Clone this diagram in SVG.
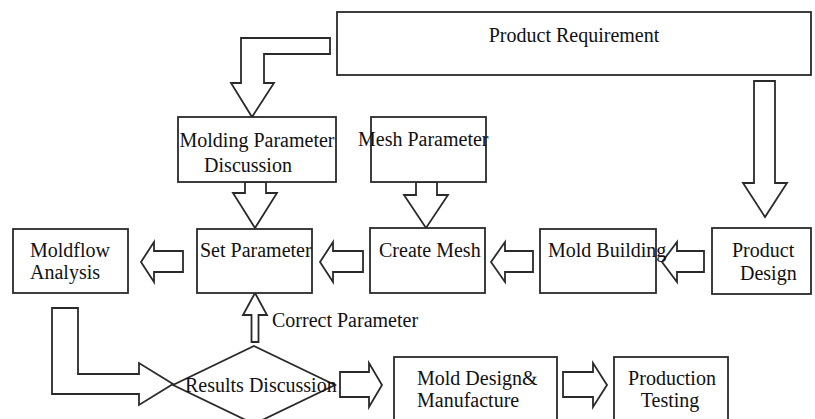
<svg xmlns="http://www.w3.org/2000/svg" width="815" height="419" viewBox="0 0 815 419">
<style>
.box{fill:#fff;stroke:#2a2a2a;stroke-width:1.8}
.arr{fill:#fff;stroke:#2a2a2a;stroke-width:1.8;stroke-linejoin:miter}
text{font-family:"Liberation Serif","Times New Roman",serif;font-size:20px;fill:#111}
.m{text-anchor:middle}
</style>
<rect width="815" height="419" fill="#fff"/>
<g id="connectors">
<polygon class="arr" points="330,38 241,38 241,83 231,83 252,117 274,83 264,83 264,54 330,54"/>
<polygon class="arr" points="754,81 775,81 775,183 787,183 765,217 743,183 754,183"/>
<polygon class="arr" points="245,182 266,182 266,193 277,193 255,228 233,193 245,193"/>
<polygon class="arr" points="416,182 437,182 437,195 448,195 426,228 404,195 416,195"/>
<polygon class="arr" points="183,251 154,251 154,242 141,262 154,282 154,272 183,272"/>
<polygon class="arr" points="363,251 333,251 333,242 320,262 333,282 333,272 363,272"/>
<polygon class="arr" points="533,251 505,251 505,242 491,262 505,282 505,272 533,272"/>
<polygon class="arr" points="704,251 677,251 677,242 662,262 677,282 677,272 704,272"/>
<polygon class="arr" points="251.5,342 258.5,342 258.5,315 267,315 255,293 243,315 251.5,315"/>
<polygon class="arr" points="52,308 78,308 78,374 139,374 139,363 173,384 139,405 139,394 52,394"/>
<polygon class="arr" points="340,372 369,372 369,363 382,385 369,407 369,397 340,397"/>
<polygon class="arr" points="563,372 593,372 593,363 607,385 593,407 593,397 563,397"/>
</g>
<g id="product-requirement">
<rect class="box" x="337" y="12" width="474" height="63"/>
<text class="m" x="574" y="42">Product Requirement</text>
</g>
<g id="molding-parameter-discussion">
<rect class="box" x="178" y="117" width="158" height="65"/>
<text class="m" x="257" y="147">Molding Parameter</text>
<text class="m" x="248" y="172">Discussion</text>
</g>
<g id="mesh-parameter">
<rect class="box" x="371" y="117" width="115" height="65"/>
<text x="358" y="146">Mesh Parameter</text>
</g>
<g id="moldflow-analysis">
<rect class="box" x="13" y="229" width="115" height="64"/>
<text x="30" y="257">Moldflow</text>
<text x="30" y="279">Analysis</text>
</g>
<g id="set-parameter">
<rect class="box" x="197" y="229" width="115" height="64"/>
<text x="200" y="257">Set Parameter</text>
</g>
<g id="create-mesh">
<rect class="box" x="370" y="228" width="115" height="65"/>
<text x="379" y="257">Create Mesh</text>
</g>
<g id="mold-building">
<rect class="box" x="540" y="229" width="116" height="64"/>
<text x="548" y="257">Mold Building</text>
</g>
<g id="product-design">
<rect class="box" x="712" y="228" width="99" height="66"/>
<text x="732" y="257">Product</text>
<text x="740" y="280">Design</text>
</g>
<g id="correct-parameter-label">
<text x="272" y="327">Correct Parameter</text>
</g>
<g id="results-discussion">
<polygon class="box" points="254,346 335,385 254,424 173,385"/>
<text x="185" y="392">Results Discussion</text>
</g>
<g id="mold-design-manufacture">
<rect class="box" x="394" y="357" width="163" height="70"/>
<text x="417" y="385">Mold Design&amp;</text>
<text x="417" y="407">Manufacture</text>
</g>
<g id="production-testing">
<rect class="box" x="614" y="357" width="114" height="70"/>
<text class="m" x="672" y="385">Production</text>
<text class="m" x="670" y="407">Testing</text>
</g>
</svg>
